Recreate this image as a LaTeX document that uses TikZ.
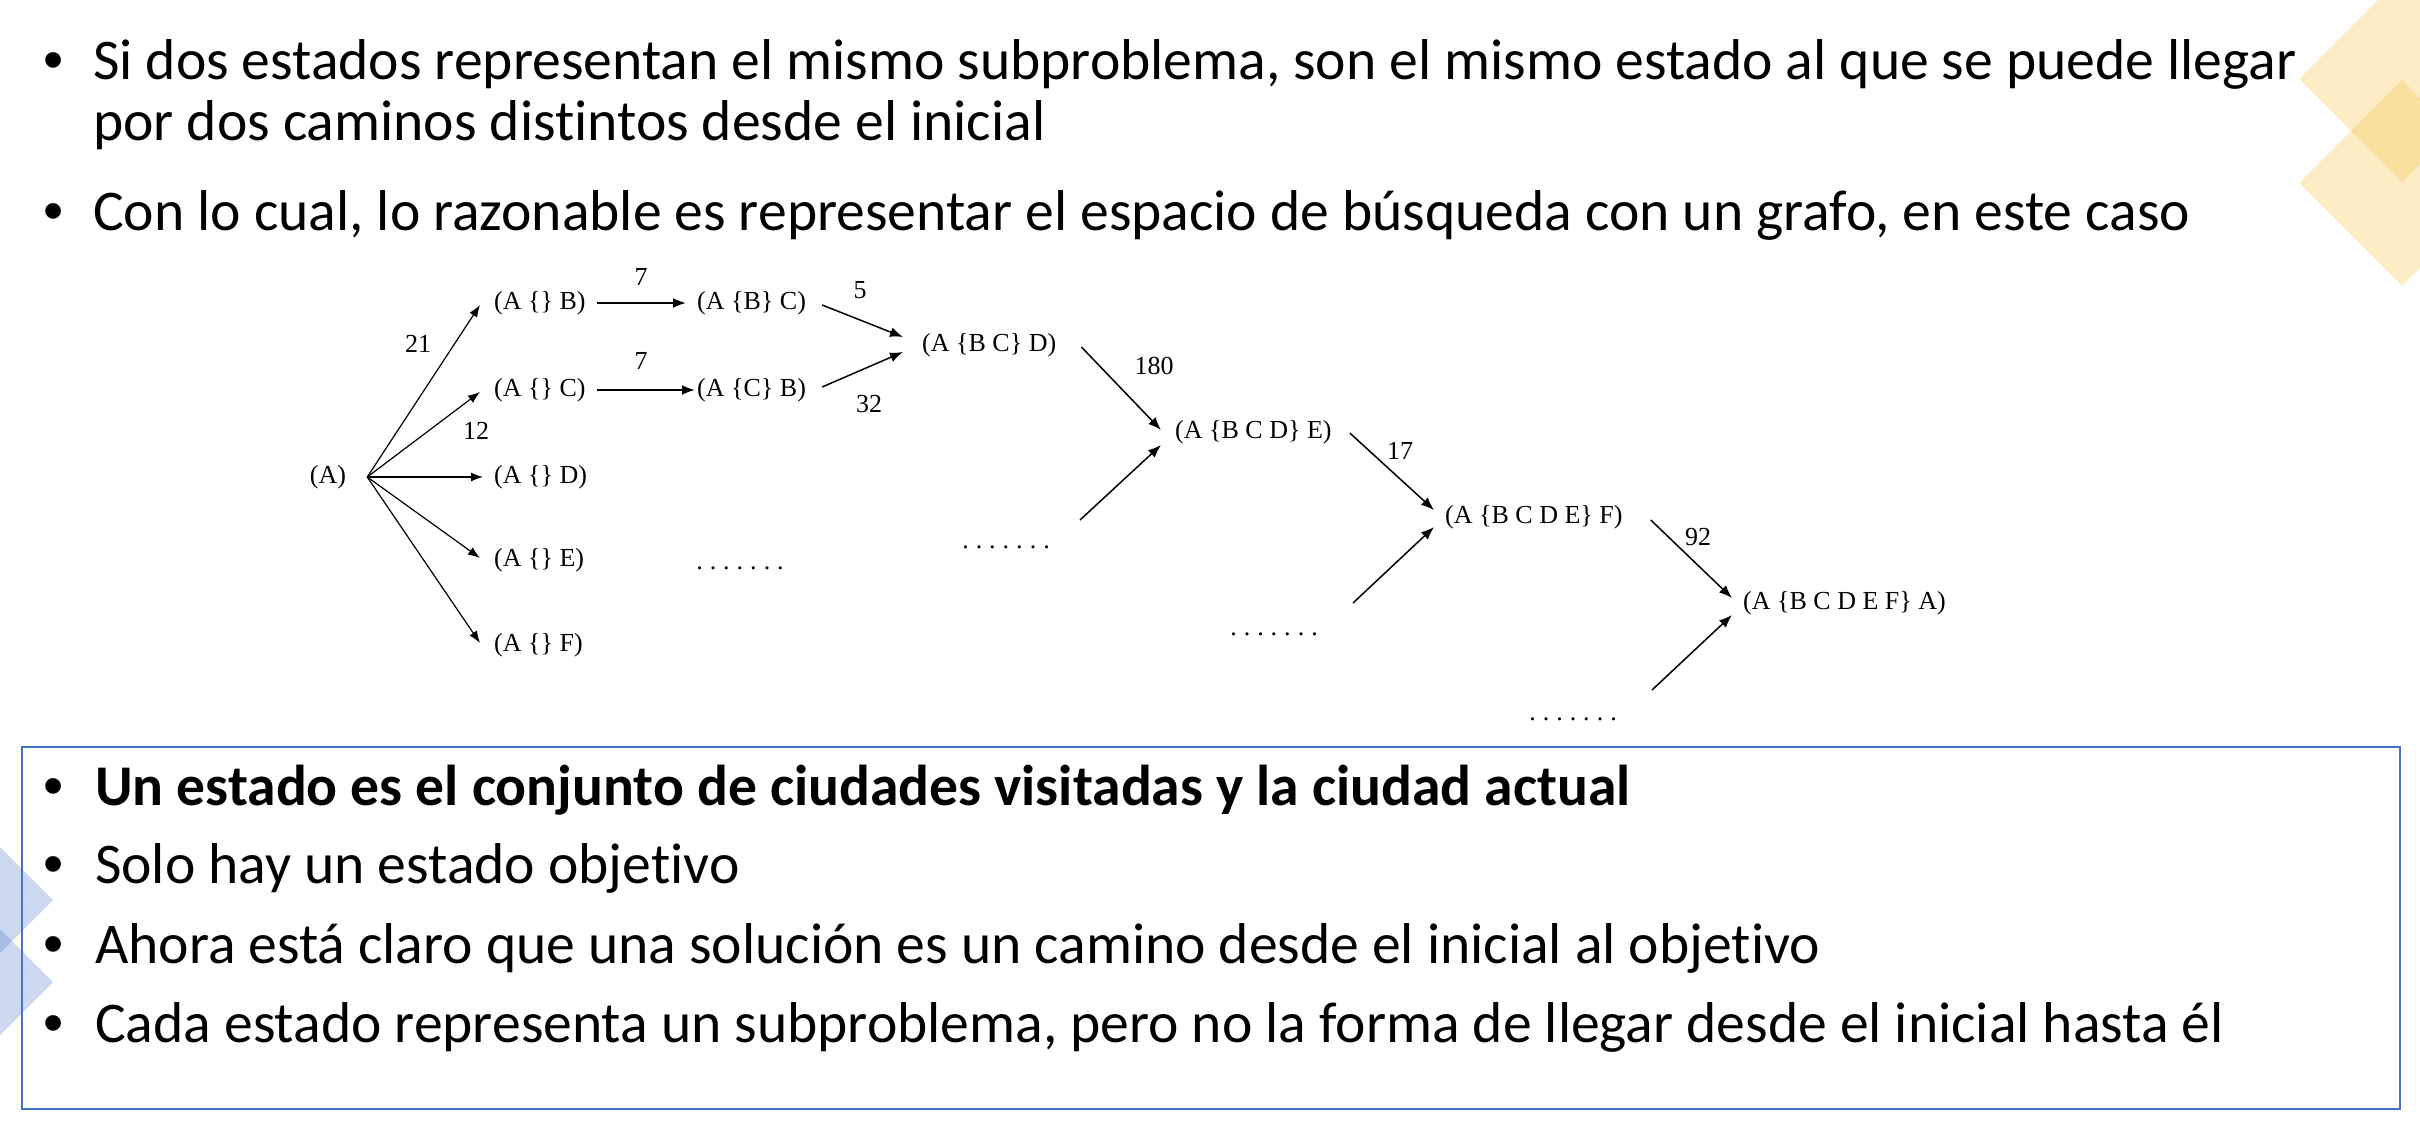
\documentclass[tikz,border=0pt]{standalone}
\usepackage{fontspec}
\setmainfont[Ligatures=CommonOff]{Carlito}
\newfontfamily\tnr{Liberation Serif}
\newfontfamily\bulfont{Liberation Sans}
\usetikzlibrary{arrows.meta}
\definecolor{boxblue}{HTML}{4472C4}
\definecolor{goldy}{HTML}{F5C242}
\newcommand{\dotrow}{.\kern7pt.\kern7pt.\kern7pt.\kern7pt.\kern7pt.\kern7pt.}
\begin{document}
\begin{tikzpicture}[x=1pt,y=-1pt,
  main/.style={font=\fontsize{57.6}{68}\selectfont, inner sep=0pt, anchor=base west},
  mainb/.style={font=\bfseries\fontsize{57.6}{68}\selectfont, inner sep=0pt, anchor=base west},
  bul/.style={font=\bulfont\fontsize{57.6}{68}\selectfont, inner sep=0pt, anchor=base},
  st/.style={font=\tnr\fontsize{26}{30}\selectfont, inner sep=0pt},
  lbl/.style={font=\tnr\fontsize{26}{30}\selectfont, inner sep=0pt},
  dots/.style={font=\tnr\fontsize{26}{30}\selectfont, inner sep=0pt, anchor=base},
  arr/.style={-{Latex[length=12pt,width=9pt]}, line width=1.2pt},
  arrh/.style={-{Latex[length=13pt,width=10pt]}, line width=2pt},
  arrd/.style={-{Latex[length=13pt,width=10pt]}, line width=1.5pt},
  ydia/.style={fill=goldy, fill opacity=0.3},
  bdia/.style={fill=boxblue, fill opacity=0.28}
]
\useasboundingbox (0,0) rectangle (2420,1132);
\begin{scope}
\clip (0,0) rectangle (2420,1132);
% yellow diamonds top right
\fill[ydia] (2299,79) -- (2402,-24) -- (2505,79) -- (2402,182) -- cycle;
\fill[ydia] (2299,183) -- (2402,80) -- (2505,183) -- (2402,286) -- cycle;
% blue diamonds left
\fill[bdia] (-153,900) -- (-50,797) -- (53,900) -- (-50,1003) -- cycle;
\fill[bdia] (-153,982) -- (-50,879) -- (53,982) -- (-50,1085) -- cycle;
\end{scope}

% top text
\node[bul] (b1) at (54,80) {•};
\node[main] (t1) at (93,80) {Si dos estados representan el mismo subproblema, son el mismo estado al que se puede llegar};
\node[main] (t1b) at (93,140) {por dos caminos distintos desde el inicial};
\node[bul] (b2) at (54,230) {•};
\node[main] (t2) at (93,230) {Con lo cual, lo razonable es representar el espacio de búsqueda con un grafo, en este caso};

% bottom box
\draw[boxblue, line width=1.6pt] (22,747) rectangle (2400,1109);
\node[bul] (c1) at (54,805) {•};
\node[mainb] (u1) at (95,805) {Un estado es el conjunto de ciudades visitadas y la ciudad actual};
\node[bul] (c2) at (54,883) {•};
\node[main] (u2) at (95,883) {Solo hay un estado objetivo};
\node[bul] (c3) at (54,963) {•};
\node[main] (u3) at (95,963) {Ahora está claro que una solución es un camino desde el inicial al objetivo};
\node[bul] (c4) at (54,1042) {•};
\node[main] (u4) at (95,1042) {Cada estado representa un subproblema, pero no la forma de llegar desde el inicial hasta él};

% graph nodes
\node[st] (A) at (328,477) {(A)};
\node[st, anchor=west] (AB) at (494,303) {(A \{\} B)};
\node[st, anchor=west] (AC) at (494,390) {(A \{\} C)};
\node[st, anchor=west] (AD) at (494,477) {(A \{\} D)};
\node[st, anchor=west] (AE) at (494,560) {(A \{\} E)};
\node[st, anchor=west] (AF) at (494,645) {(A \{\} F)};
\node[st, anchor=west] (ABC) at (697,303) {(A \{B\} C)};
\node[st, anchor=west] (ACB) at (697,390) {(A \{C\} B)};
\node[st, anchor=west] (ABCD) at (922,345) {(A \{B C\} D)};
\node[st, anchor=west] (ABCDE) at (1175,432) {(A \{B C D\} E)};
\node[st, anchor=west] (ABCDEF) at (1445,517) {(A \{B C D E\} F)};
\node[st, anchor=west] (ABCDEFA) at (1743,603) {(A \{B C D E F\} A)};

\node[dots] (d1) at (740,569) {\dotrow};
\node[dots] (d2) at (1006,548) {\dotrow};
\node[dots] (d3) at (1274,635) {\dotrow};
\node[dots] (d4) at (1573,720) {\dotrow};

\coordinate (f1) at (1080,520);
\coordinate (f2) at (1353,603);
\coordinate (f3) at (1652,690);

% edges from A
\draw[arr] ([xshift=21pt]A.east) -- ([xshift=-14pt,yshift=-2pt]AB.west);
\draw[arr] ([xshift=21pt]A.east) -- ([xshift=-14pt,yshift=-2pt]AC.west);
\draw[arr] ([xshift=21pt]A.east) -- ([xshift=-11pt]AD.west);
\draw[arr] ([xshift=21pt]A.east) -- ([xshift=-14pt,yshift=2pt]AE.west);
\draw[arr] ([xshift=21pt]A.east) -- ([xshift=-14pt,yshift=2pt]AF.west);

\draw[arrh] ([xshift=11pt]AB.east) -- ([xshift=-11pt]ABC.west);
\draw[arrh] ([xshift=11pt]AC.east) -- ([xshift=-2pt]ACB.west);

\draw[arrd] ([xshift=16pt,yshift=-2pt]ABC.east) -- ([xshift=-19pt,yshift=8pt]ABCD.west);
\draw[arrd] ([xshift=16pt,yshift=3pt]ACB.east) -- ([xshift=-19pt,yshift=-7pt]ABCD.west);

\draw[arrd] ([xshift=25pt,yshift=-2pt]ABCD.east) -- ([xshift=-14pt,yshift=2pt]ABCDE.west);
\draw[arrd] (f1) -- ([xshift=-14pt,yshift=-13pt]ABCDE.west);
\draw[arrd] ([xshift=18pt,yshift=-1pt]ABCDE.east) -- ([xshift=-11pt,yshift=7pt]ABCDEF.west);
\draw[arrd] (f2) -- ([xshift=-11pt,yshift=-10pt]ABCDEF.west);
\draw[arrd] ([xshift=28pt,yshift=-3pt]ABCDEF.east) -- ([xshift=-11pt,yshift=5pt]ABCDEFA.west);
\draw[arrd] (f3) -- ([xshift=-11pt,yshift=-12pt]ABCDEFA.west);

% labels
\node[lbl] (l21) at (418,344) {21};
\node[lbl] (l12) at (476,431) {12};
\node[lbl] (l7a) at (641,277) {7};
\node[lbl] (l7b) at (641,361) {7};
\node[lbl] (l5) at (860,290) {5};
\node[lbl] (l32) at (869,404) {32};
\node[lbl] (l180) at (1154,366) {180};
\node[lbl] (l17) at (1400,451) {17};
\node[lbl] (l92) at (1698,537) {92};
\end{tikzpicture}
\end{document}
